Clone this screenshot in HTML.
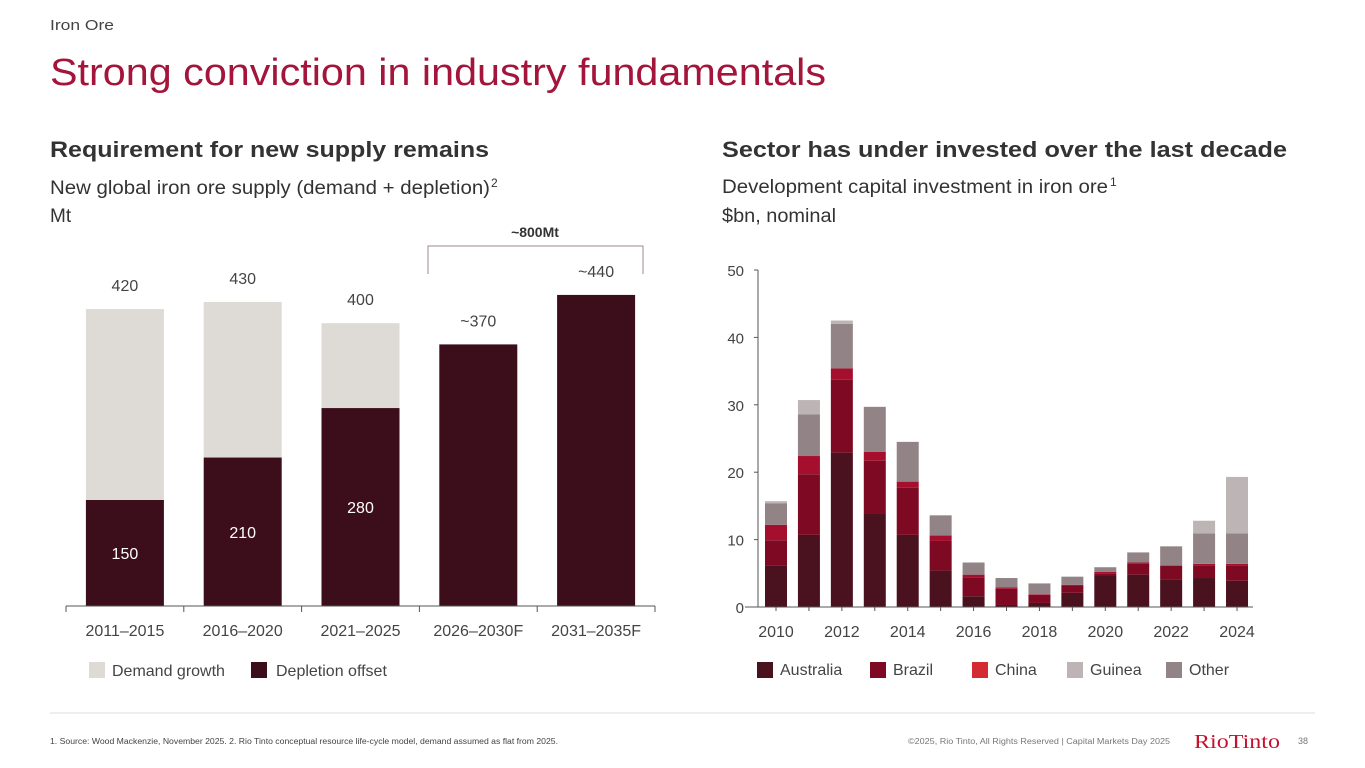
<!DOCTYPE html>
<html><head><meta charset="utf-8"><style>
html,body{margin:0;padding:0;background:#fff;}
svg{display:block;font-family:"Liberation Sans",sans-serif;}
</style></head><body>
<svg id="s" width="1365" height="768" viewBox="0 0 1365 768">
<text x="50" y="30" font-size="15" fill="#444" textLength="64" lengthAdjust="spacingAndGlyphs">Iron Ore</text>
<text x="50" y="85" font-size="38" fill="#a3153a" textLength="776" lengthAdjust="spacingAndGlyphs">Strong conviction in industry fundamentals</text>
<text x="50" y="157" font-size="22" font-weight="bold" fill="#333" textLength="439" lengthAdjust="spacingAndGlyphs">Requirement for new supply remains</text>
<text x="50" y="194" font-size="19" fill="#333" textLength="440" lengthAdjust="spacingAndGlyphs">New global iron ore supply (demand + depletion)</text>
<text x="491" y="187" font-size="12" fill="#333">2</text>
<text x="50" y="222" font-size="19" fill="#333">Mt</text>
<text x="722" y="157" font-size="22" font-weight="bold" fill="#333" textLength="565" lengthAdjust="spacingAndGlyphs">Sector has under invested over the last decade</text>
<text x="722" y="193" font-size="19" fill="#333" textLength="386" lengthAdjust="spacingAndGlyphs">Development capital investment in iron ore</text>
<text x="1110" y="186" font-size="12" fill="#333">1</text>
<text x="722" y="222" font-size="19" fill="#333" textLength="114" lengthAdjust="spacingAndGlyphs">$bn, nominal</text>

<g id="left"></g>
<g id="right"></g>

<line x1="50" y1="713" x2="1315" y2="713" stroke="#ddd" stroke-width="1"/>
<text x="50" y="744" font-size="8" fill="#444" textLength="508" lengthAdjust="spacingAndGlyphs">1. Source: Wood Mackenzie, November 2025. 2. Rio Tinto conceptual resource life-cycle model, demand assumed as flat from 2025.</text>
<text x="908" y="744" font-size="8" fill="#777" textLength="262" lengthAdjust="spacingAndGlyphs">©2025, Rio Tinto, All Rights Reserved  |  Capital Markets Day 2025</text>
<text x="1194" y="748" font-size="20" fill="#c8102e" font-family="Liberation Serif,serif" textLength="86" lengthAdjust="spacingAndGlyphs">RioTinto</text>
<text x="1298" y="744" font-size="9" fill="#777">38</text>
</svg>
<script>
const NS='http://www.w3.org/2000/svg';
// Left chart data
const periods=['2011–2015','2016–2020','2021–2025','2026–2030F','2031–2035F'];
const depletion=[150,210,280,370,440];
const demand=[270,220,120,0,0];
const totalLabels=['420','430','400','~370','~440'];
const depletionLabels=['150','210','280','',''];
// Right chart data
const years=[2010,2011,2012,2013,2014,2015,2016,2017,2018,2019,2020,2021,2022,2023,2024];
const australia=[6.2,10.7,22.9,13.8,10.7,5.4,1.6,0.3,0.6,2.1,4.6,4.8,4.1,4.3,3.9];
const brazil=[3.7,9.0,10.8,7.9,7.0,4.4,2.8,2.4,1.2,1.1,0.4,1.6,2.0,1.9,2.3];
const china=[2.3,2.7,1.7,1.3,0.9,0.8,0.4,0.2,0.1,0.1,0.2,0.2,0.1,0.2,0.2];
const guinea=[0.3,2.1,0.5,0,0,0,0,0,0,0,0,0,0,1.9,8.4];
const other=[3.2,6.2,6.6,6.7,5.9,3.0,1.8,1.4,1.6,1.2,0.7,1.5,2.8,4.5,4.5];
const yTicks=[0,10,20,30,40,50];

function mk(tag,attrs,parent,name,inter){const e=document.createElementNS(NS,tag);for(const k in attrs)e.setAttribute(k,attrs[k]);parent.appendChild(e);


return e;}
function txt(x,y,s,size,fill,anchor,parent,name){const t=mk('text',{x:x,y:y,'font-size':size,fill:fill,'text-anchor':anchor},parent,name,false);t.textContent=s;return t;}

// LEFT
const L=document.getElementById('left');
const lBase=606, lScale=0.707, lX0=66, lStep=117.8, lBarW=78;
const ly=v=>lBase-v*lScale;
const lx=i=>lX0+lStep*i+(lStep-lBarW)/2;
periods.forEach((p,i)=>{
  const x=lx(i);
  mk('rect',{x:x,y:ly(depletion[i]),width:lBarW,height:depletion[i]*lScale,fill:'#3c0d1a'},L,'depletion-bar-'+i,false);
  if(demand[i]>0) mk('rect',{x:x,y:ly(depletion[i]+demand[i]),width:lBarW,height:demand[i]*lScale,fill:'#dedad5'},L,'demand-bar-'+i,false);
  txt(x+lBarW/2,ly(depletion[i]+demand[i])-18,totalLabels[i],16,'#444','middle',L,'total-label-'+i);
  if(depletionLabels[i]) txt(x+lBarW/2,ly(depletion[i]/2)+6,depletionLabels[i],16,'#fff','middle',L,'depletion-label-'+i);
  txt(lX0+lStep*i+lStep/2,636,p,16,'#444','middle',L,'x-label-'+i);
});
mk('line',{x1:lX0,y1:lBase,x2:lX0+lStep*5,y2:lBase,stroke:'#555','stroke-width':1},L,'left-x-axis',false);
for(let i=0;i<=5;i++) mk('line',{x1:lX0+lStep*i,y1:lBase,x2:lX0+lStep*i,y2:lBase+6,stroke:'#555'},L,'left-x-tick',false);
mk('path',{d:'M428 274 V246 H643 V274',fill:'none',stroke:'#9a8a8e','stroke-width':1},L,'bracket-800mt',false);
const bt=txt(535,237,'~800Mt',14,'#333','middle',L,'bracket-label');bt.setAttribute('font-weight','bold');
mk('rect',{x:89,y:662,width:16,height:16,fill:'#dedad5'},L,'legend-demand-swatch',false);
txt(112,676,'Demand growth',16,'#444','start',L,'legend-demand-label');
mk('rect',{x:251,y:662,width:16,height:16,fill:'#3c0d1a'},L,'legend-depletion-swatch',false);
txt(276,676,'Depletion offset',16,'#444','start',L,'legend-depletion-label');

// RIGHT
const R=document.getElementById('right');
const rBase=607, rScale=6.74, rX0=776, rStep=32.93, rBarW=22;
const ry=v=>rBase-v*rScale;
const rx=i=>rX0+rStep*i;
mk('line',{x1:758,y1:270,x2:758,y2:rBase,stroke:'#555'},R,'right-y-axis',false);
yTicks.forEach(t=>{
  mk('line',{x1:754,y1:ry(t),x2:758,y2:ry(t),stroke:'#555'},R,'y-tick-'+t,false);
  txt(744,ry(t)+6,String(t),15,'#444','end',R,'y-label-'+t);
});
const series=[[australia,'#4a111f','australia'],[brazil,'#7d0a22','brazil'],[china,'#a50f2d','china'],[other,'#928486','other'],[guinea,'#bcb4b5','guinea']];
years.forEach((yr,i)=>{
  let cum=0;
  series.forEach(([arr,col,nm])=>{
    const v=arr[i]; if(v<=0) return;
    mk('rect',{x:rx(i)-rBarW/2,y:ry(cum+v),width:rBarW,height:v*rScale,fill:col},R,nm+'-bar-'+yr,false);
    cum+=v;
  });
  mk('line',{x1:rx(i),y1:rBase,x2:rx(i),y2:rBase+4,stroke:'#555'},R,'x-tick-'+yr,false);
  if(i%2===0) txt(rx(i),637,String(yr),16,'#444','middle',R,'x-label-'+yr);
});
mk('line',{x1:745,y1:rBase,x2:1253,y2:rBase,stroke:'#555'},R,'right-x-axis',false);
const leg=[['#4a111f','Australia',757],['#7d0a22','Brazil',870],['#d42a32','China',972],['#bcb4b5','Guinea',1067],['#928486','Other',1166]];
leg.forEach(([c,l,x])=>{
  mk('rect',{x:x,y:662,width:16,height:16,fill:c},R,'legend-'+l.toLowerCase()+'-swatch',false);
  txt(x+23,675,l,16,'#444','start',R,'legend-'+l.toLowerCase()+'-label');
});
</script>
</body></html>
